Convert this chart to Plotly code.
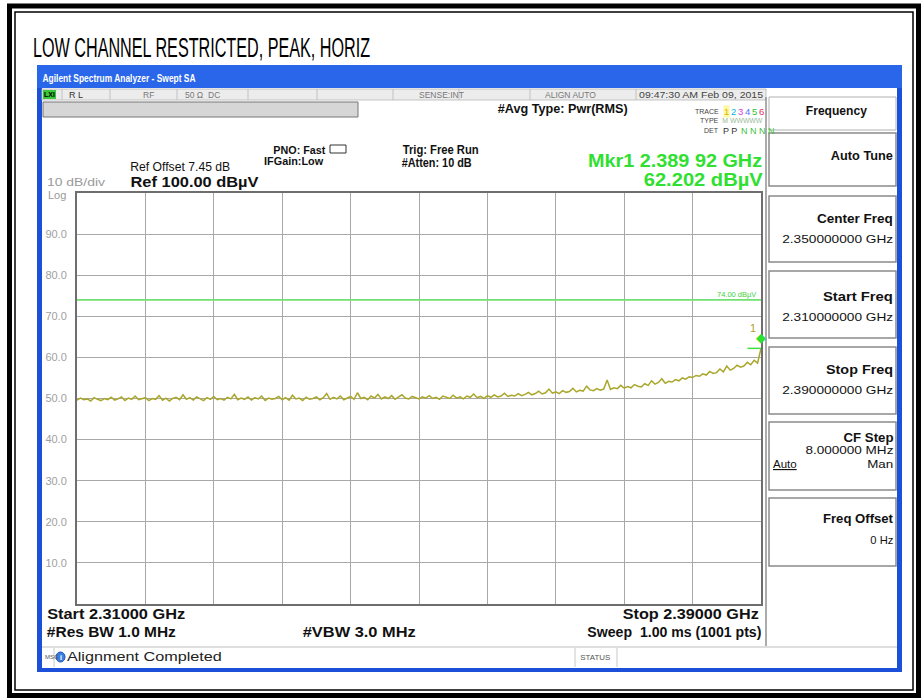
import json
import plotly.graph_objects as go

W, H = 924, 698

# ---------------- data ----------------
start_ghz = 2.310
stop_ghz = 2.390
level_dbuv = [
    49.6, 50.1, 49.7, 49.9, 49.4, 50.2, 49.8, 49.5, 50.0, 49.7,
    50.3, 49.6, 49.9, 50.4, 49.5, 50.1, 49.8, 50.6, 49.7, 49.9,
    50.2, 49.5, 50.0, 49.8, 50.7, 49.6, 50.1, 49.4, 50.0, 50.3,
    49.7, 50.9, 49.8, 50.2, 49.6, 50.4, 49.9, 49.5, 50.2, 49.8,
    50.5, 49.7, 50.0, 49.6, 50.3, 49.9, 51.0, 49.7, 50.1, 49.8,
    50.4, 49.6, 50.2, 49.9, 50.6, 49.5, 50.1, 49.8, 50.0, 50.5,
    49.7, 50.2, 49.6, 50.8, 49.9, 50.1, 49.5, 50.3, 49.8, 50.0,
    50.4, 49.7, 50.2, 51.2, 49.8, 50.3, 49.9, 50.6, 49.7, 50.1,
    50.5, 49.8, 51.4, 50.0, 50.3, 49.7, 50.6, 50.1, 51.0, 49.9,
    50.4, 50.0, 50.7, 49.8, 50.3, 50.9, 50.1, 49.9, 50.5, 50.2,
    49.9, 50.4, 50.1, 50.7, 50.0, 50.3, 49.8, 50.6, 50.2, 50.0,
    50.8, 50.1, 50.4, 49.9, 50.6, 50.3, 51.1, 50.2, 50.5, 50.0,
    50.7, 50.3, 50.9, 50.4, 50.6, 51.3, 50.5, 50.8, 50.6, 51.2,
    50.7, 51.0, 51.5, 50.9, 51.2, 51.8, 51.1, 51.4, 52.3, 51.3,
    51.6, 51.2, 51.9, 51.5, 51.7, 52.5, 51.6, 52.0, 51.8, 53.0,
    52.1, 51.9, 52.4, 52.0, 52.3, 54.5, 52.2, 52.6, 52.4, 53.2,
    52.5, 52.9, 52.6, 53.4, 53.0, 52.8, 53.6, 53.2, 54.3, 53.5,
    53.9, 54.8, 53.7, 54.2, 54.0, 54.6, 54.3, 55.0, 54.7, 55.3,
    55.1, 55.6, 55.4, 56.0, 55.7, 56.6, 56.1, 56.3, 57.2, 56.5,
    57.9, 56.9, 57.3, 58.1, 57.6, 57.9, 58.8, 58.2, 59.3, 58.6,
    62.2,
]
n_pts = len(level_dbuv)
freq_ghz = [start_ghz + (stop_ghz - start_ghz) * i / (n_pts - 1) for i in range(n_pts)]

limit_dbuv = 74.0
limit_label = "74.00 dBµV"
mkr_ghz = 2.38992
mkr_dbuv = 62.202
y_tick_vals = [10, 20, 30, 40, 50, 60, 70, 80, 90]
y_tick_text = ["10.0", "20.0", "30.0", "40.0", "50.0", "60.0", "70.0", "80.0", "90.0"]
x_div_ghz = 0.008

# ---------------- helpers ----------------
SANS = "Liberation Sans, Arial, sans-serif"


def X(x):
    return x / W


def Y(y):
    return 1 - y / H


shapes = []
annos = []
fit = {}


def rect(x0, y0, x1, y1, fill=None, line=None, lw=1.0, layer="below"):
    shapes.append(dict(
        type="rect", xref="paper", yref="paper",
        x0=X(x0), x1=X(x1), y0=Y(y1), y1=Y(y0),
        fillcolor=fill if fill else "rgba(0,0,0,0)",
        line=dict(color=line if line else "rgba(0,0,0,0)", width=lw if line else 0),
        layer=layer,
    ))


def hline(x0, x1, y, color, lw=1.0, layer="below"):
    shapes.append(dict(type="line", xref="paper", yref="paper",
                       x0=X(x0), x1=X(x1), y0=Y(y), y1=Y(y),
                       line=dict(color=color, width=lw), layer=layer))


def vline(x, y0, y1, color, lw=1.0, layer="below"):
    shapes.append(dict(type="line", xref="paper", yref="paper",
                       x0=X(x), x1=X(x), y0=Y(y0), y1=Y(y1),
                       line=dict(color=color, width=lw), layer=layer))


def text(x, y, s, size=11, color="#000", bold=False, anchor="left", w=None, bg=None):
    xa = anchor
    if w is not None:
        fit[s] = w
        x = x + w / 2 if anchor == "left" else (x - w / 2 if anchor == "right" else x)
        xa = "center"
    annos.append(dict(
        xref="paper", yref="paper", x=X(x), y=Y(y), text=s,
        showarrow=False, xanchor=xa, yanchor="middle",
        font=dict(size=size, color=color, family=SANS, weight="bold" if bold else "normal"),
        borderpad=0, bgcolor=bg if bg else "rgba(0,0,0,0)",
    ))


# ---------------- page frame ----------------
rect(9.5, 6, 918.5, 695.5, line="#000", lw=5)
rect(15, 12, 913, 690, line="#000", lw=1.5)
text(33, 48, "LOW CHANNEL RESTRICTED, PEAK, HORIZ", size=27, color="#000", w=337)

# ---------------- analyzer window ----------------
rect(37, 65, 902, 672, fill="#1c50d8")            # blue window frame
rect(37, 65, 902, 88, fill="#2a66ea")              # title bar
text(42, 78, "Agilent Spectrum Analyzer - Swept SA", size=11, color="#ffffff", bold=True, w=153)
rect(42, 88, 897, 668, fill="#ffffff")             # client area

# status row
rect(42, 89, 766, 100, fill="#ececec", line="#b8b8b8", lw=0.8)
for sx in [62, 110, 177, 248, 317, 393, 459, 530, 636]:
    vline(sx, 89, 100, "#b8b8b8", 0.8)
rect(43, 90, 56, 99, fill="#38c838")
text(49.5, 94.5, "LXI", size=7, color="#000", bold=True, anchor="center")
text(68, 94.5, "R L", size=9, color="#333")
text(142, 94.5, "RF", size=8.5, color="#777")
text(184, 94.5, "50 Ω", size=8.5, color="#777")
text(207, 94.5, "DC", size=8.5, color="#777")
text(418, 94.5, "SENSE:INT", size=8.5, color="#777")
text(544, 94.5, "ALIGN AUTO", size=8.5, color="#777")
text(763, 94.5, "09:47:30 AM Feb 09, 2015", size=9, color="#444", anchor="right", w=124)

# grey message bar
rect(43, 102, 358, 117, fill="#d6d6d6", line="#777", lw=1)

text(497, 109, "#Avg Type: Pwr(RMS)", size=12, color="#111", bold=True, w=130)
text(720, 111, "TRACE", size=7, color="#444", anchor="right")
trace_cols = ["#d8b800", "#00b8e0", "#e040d0", "#5070ff", "#30c030", "#e03060"]
for k, c in enumerate(trace_cols):
    text(726 + 7 * k, 111, str(k + 1), size=9.5, color=c, anchor="center",
         bg="#fff6a0" if k == 0 else None)
text(720, 121, "TYPE", size=7, color="#444", anchor="right")
text(722, 121, "M WWWWW", size=8, color="#9ab89a", w=40)
text(720, 131, "DET", size=7, color="#444", anchor="right")
text(722, 131, "P P", size=9, color="#333")
text(740, 131, "N N N N", size=9, color="#40c040")

text(325, 150, "PNO: Fast", size=10.5, color="#111", bold=True, anchor="right", w=52)
text(323, 161, "IFGain:Low", size=10.5, color="#111", bold=True, anchor="right", w=59)
rect(330, 145, 346, 153, line="#333", lw=1)
text(402, 150, "Trig: Free Run", size=12, color="#111", bold=True, w=76)
text(402, 163, "#Atten: 10 dB", size=12, color="#111", bold=True, w=70)

text(762, 161, "Mkr1 2.389 92 GHz", size=18, color="#30e030", bold=True, anchor="right", w=174)
text(762, 180, "62.202 dBµV", size=18, color="#30e030", bold=True, anchor="right", w=119)

text(130, 167, "Ref Offset 7.45 dB", size=12, color="#111", w=100)
text(130, 181, "Ref 100.00 dBµV", size=15, color="#111", bold=True, w=128)
text(47, 181.5, "10 dB/div", size=11, color="#999", w=58)
text(47, 195, "Log", size=11, color="#999")

# right soft-key panel
vline(766, 97, 646, "#909090", 1.5)
rect(769, 97, 896, 130, fill="#ffffff", line="#b0b0b0", lw=1)
text(836, 111, "Frequency", size=12, color="#111", bold=True, anchor="center", w=61)
panel_boxes = [
    (133, 186, [("Auto Tune", 155, 13.5, True, 62)]),
    (196, 262, [("Center Freq", 218, 13.5, True, 76), ("2.350000000 GHz", 239, 11.5, False, 111)]),
    (271, 338, [("Start Freq", 296, 13.5, True, 70), ("2.310000000 GHz", 317, 11.5, False, 111)]),
    (347, 414, [("Stop Freq", 369, 13.5, True, 67), ("2.390000000 GHz", 390, 11.5, False, 111)]),
    (422, 490, [("CF Step", 437, 13.5, True, 50), ("8.000000 MHz", 450, 11.5, False, 88),
                ("Man", 464, 11.5, False, 26)]),
    (498, 566, [("Freq Offset", 518, 13.5, True, 70), ("0 Hz", 540, 11.5, False, 23)]),
]
for y0, y1, lines in panel_boxes:
    rect(769, y0, 896, y1, fill="#ffffff", line="#8a8a8a", lw=1.5)
    for s, yy, sz, b, ww in lines:
        text(893, yy, s, size=sz, color="#111", bold=b, anchor="right", w=ww)
text(772, 464, "<u>Auto</u>", size=11.5, color="#111")

# bottom annotations
text(47, 614, "Start 2.31000 GHz", size=14, color="#111", bold=True, w=138)
text(47, 632, "#Res BW 1.0 MHz", size=14, color="#111", bold=True, w=129)
text(302, 632, "#VBW 3.0 MHz", size=14, color="#111", bold=True, w=113)
text(759, 614, "Stop 2.39000 GHz", size=14, color="#111", bold=True, anchor="right", w=136)
text(761, 632, "Sweep  1.00 ms (1001 pts)", size=14, color="#111", bold=True, anchor="right", w=174)

# status bar
hline(42, 897, 647, "#bdbdbd", 1)
vline(54, 648, 667, "#c8c8c8", 1)
vline(575, 648, 667, "#c8c8c8", 1)
vline(617, 648, 667, "#c8c8c8", 1)
text(43.5, 657, "MSG", size=6, color="#555")
shapes.append(dict(type="circle", xref="paper", yref="paper",
                   x0=X(56), x1=X(65), y0=Y(662), y1=Y(652),
                   fillcolor="#3a7fe0", line=dict(color="#2050b0", width=1), layer="below"))
text(60.5, 657, "i", size=7, color="#fff", bold=True, anchor="center")
text(67, 657, "Alignment Completed", size=12, color="#222", w=155)
text(580, 657, "STATUS", size=6.5, color="#555", w=30)

# marker decorations (data-referenced)
shapes.append(dict(type="line", xref="x", yref="y",
                   x0=mkr_ghz - 0.0015, x1=stop_ghz, y0=mkr_dbuv, y1=mkr_dbuv,
                   line=dict(color="#40e040", width=1.5), layer="above"))
annos.append(dict(xref="x", yref="y", x=mkr_ghz, y=mkr_dbuv, text="◆", showarrow=False,
                  yshift=11, xshift=1, font=dict(size=13, color="#30e030", family=SANS)))
annos.append(dict(xref="x", yref="y", x=mkr_ghz, y=mkr_dbuv, text="1", showarrow=False,
                  yshift=20, xshift=-7, font=dict(size=11, color="#b0a020", family=SANS)))
annos.append(dict(xref="x", yref="y", x=stop_ghz, y=limit_dbuv, text=limit_label,
                  showarrow=False, xanchor="right", yanchor="bottom", xshift=-3, yshift=-1,
                  font=dict(size=7.5, color="#40d040", family=SANS)))

# ---------------- figure ----------------
fig = go.Figure()
fig.add_trace(go.Scatter(x=[start_ghz, stop_ghz], y=[limit_dbuv, limit_dbuv], mode="lines",
                         line=dict(color="#70e070", width=1.6), hoverinfo="skip"))
fig.add_trace(go.Scatter(x=freq_ghz, y=level_dbuv, mode="lines",
                         line=dict(color="#aaa62a", width=1.5), hoverinfo="skip"))

fig.update_layout(
    width=W, height=H, margin=dict(l=0, r=0, t=0, b=0, pad=0),
    paper_bgcolor="#ffffff", plot_bgcolor="#ffffff",
    showlegend=False, shapes=shapes, annotations=annos,
    xaxis=dict(domain=[X(77), X(761)], range=[start_ghz, stop_ghz], dtick=x_div_ghz,
               tick0=start_ghz, showgrid=True, gridcolor="#a8a8a8", gridwidth=1.3,
               showticklabels=False, zeroline=False, showline=True, mirror=True,
               linecolor="#6e6e6e", linewidth=2, ticks=""),
    yaxis=dict(domain=[Y(604), Y(193)], range=[0, 100], tickvals=y_tick_vals,
               ticktext=y_tick_text, showgrid=True, gridcolor="#a8a8a8", gridwidth=1.3,
               zeroline=False, showline=True, mirror=True, linecolor="#6e6e6e",
               linewidth=2, ticks="", ticklabelstandoff=6,
               tickfont=dict(size=11, color="#a0a0a0", family=SANS)),
)

post = (
    "document.body.style.margin='0';document.body.style.overflow='hidden';"
    "var fit=" + json.dumps(fit) + ";"
    "document.querySelectorAll('text.annotation-text').forEach(function(t){"
    "var k=t.getAttribute('data-unformatted')||t.textContent;"
    "if(fit[k]!==undefined){t.setAttribute('textLength',fit[k]);"
    "t.setAttribute('lengthAdjust','spacingAndGlyphs');}});"
)
fig.write_html("out.html", config={"displayModeBar": False}, post_script=post)
